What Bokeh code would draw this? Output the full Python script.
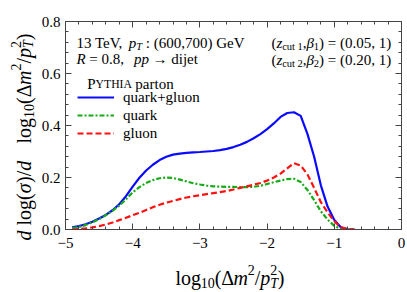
import math
from bokeh.plotting import figure
from bokeh.layouts import row, column
from bokeh.models import (Range1d, LinearAxis, SingleIntervalTicker, Label, Legend,
                          LegendItem, CustomJSTickFormatter, PrintfTickFormatter)
from bokeh.embed import file_html
from bokeh.resources import INLINE

# ---------------- data ----------------
log_dm2 = [-4.9, -4.8, -4.7, -4.6, -4.5, -4.4, -4.3, -4.2, -4.1, -4.0,
           -3.9, -3.8, -3.7, -3.6, -3.5, -3.4, -3.3, -3.2, -3.1, -3.0,
           -2.9, -2.8, -2.7, -2.6, -2.5, -2.4, -2.3, -2.2, -2.1, -2.0,
           -1.9, -1.8, -1.7, -1.6, -1.5, -1.4, -1.3, -1.2, -1.1, -1.0,
           -0.9, -0.8, -0.7]
quark_gluon = [0.008, 0.013, 0.020, 0.030, 0.042, 0.056, 0.074, 0.097, 0.128, 0.165,
               0.199, 0.227, 0.249, 0.267, 0.280, 0.288, 0.292, 0.295, 0.297, 0.298,
               0.300, 0.302, 0.305, 0.310, 0.317, 0.326, 0.337, 0.351, 0.367, 0.386,
               0.408, 0.433, 0.448, 0.451, 0.437, 0.368, 0.280, 0.170, 0.088, 0.037,
               0.008, 0.000, 0.000]
quark = [0.005, 0.010, 0.017, 0.027, 0.040, 0.055, 0.072, 0.092, 0.116, 0.143,
         0.163, 0.179, 0.190, 0.197, 0.200, 0.198, 0.192, 0.185, 0.178, 0.173,
         0.169, 0.166, 0.165, 0.164, 0.164, 0.163, 0.163, 0.164, 0.168, 0.175,
         0.182, 0.188, 0.194, 0.195, 0.183, 0.152, 0.113, 0.070, 0.038, 0.014,
         0.002, 0.000, 0.000]
gluon = [0.000, 0.002, 0.004, 0.008, 0.013, 0.019, 0.027, 0.036, 0.045, 0.055,
         0.064, 0.075, 0.086, 0.095, 0.103, 0.110, 0.117, 0.123, 0.128, 0.132,
         0.136, 0.140, 0.144, 0.148, 0.154, 0.160, 0.166, 0.172, 0.179, 0.188,
         0.200, 0.215, 0.235, 0.255, 0.246, 0.212, 0.160, 0.105, 0.066, 0.032,
         0.008, 0.002, 0.000]
series_labels = ["quark+gluon", "quark", "gluon"]

# ---------------- layout (page pixels) ----------------
SERIF = "Liberation Serif"
PW, PH = 407, 292
YL_W = 38                      # width of the y-title strip
MAIN_W, MAIN_H = PW - YL_W, 256
XL_H = PH - MAIN_H             # height of the x-title strip
FL, FR, FT, FB = 62, 401, 21, 229   # frame edges on the page
XMIN, XMAX, YMIN, YMAX = -5.0, 0.0, 0.0, 0.8

p = figure(width=MAIN_W, height=MAIN_H, output_backend="svg", toolbar_location=None,
           x_range=Range1d(XMIN, XMAX), y_range=Range1d(YMIN, YMAX),
           x_axis_type=None, y_axis_type=None,
           min_border_left=FL - YL_W, min_border_right=PW - FR,
           min_border_top=FT, min_border_bottom=MAIN_H - FB)
p.grid.visible = False
p.outline_line_color = None

AX = "#444444"

def style_axis(ax, labels):
    ax.axis_line_color = AX
    ax.major_tick_line_color = AX
    ax.minor_tick_line_color = AX
    ax.major_tick_in = 6
    ax.major_tick_out = 0
    ax.minor_tick_in = 3
    ax.minor_tick_out = 0
    ax.major_label_text_font = SERIF
    ax.major_label_text_color = "black"
    ax.major_label_text_font_size = "15px"
    if not labels:
        ax.formatter = CustomJSTickFormatter(code="return '';")
        ax.major_label_standoff = 0

minus_fmt = CustomJSTickFormatter(code="return (tick < 0 ? '\u2212' : '') + Math.abs(tick).toFixed(0);")
for side in ["below", "above"]:
    ax = LinearAxis(ticker=SingleIntervalTicker(interval=1, num_minor_ticks=5),
                    formatter=minus_fmt)
    style_axis(ax, side == "below")
    if side == "below":
        ax.major_label_standoff = 8
    p.add_layout(ax, side)
for side in ["left", "right"]:
    ax = LinearAxis(ticker=SingleIntervalTicker(interval=0.2, num_minor_ticks=5),
                    formatter=PrintfTickFormatter(format="%.1f"))
    style_axis(ax, side == "left")
    if side == "left":
        ax.major_label_standoff = 5
    p.add_layout(ax, side)

# ---------------- curves ----------------
r_qg = p.line(log_dm2, quark_gluon, line_color="#0a0aff", line_width=2.2)
r_q = p.line(log_dm2, quark, line_color="#16aa16", line_width=2.2, line_dash="5 2 2 2")
r_g = p.line(log_dm2, gluon, line_color="#ff1010", line_width=2.2, line_dash="6 3")

leg = Legend(items=[LegendItem(label=series_labels[0], renderers=[r_qg]),
                    LegendItem(label=series_labels[1], renderers=[r_q]),
                    LegendItem(label=series_labels[2], renderers=[r_g])],
             location=(12, 87), glyph_width=37, glyph_height=18, label_height=18,
             spacing=0, label_standoff=9, padding=0, margin=0,
             border_line_color=None, background_fill_alpha=0,
             label_text_font=SERIF, label_text_font_size="15px",
             label_text_color="black")
p.add_layout(leg)

# ---------------- title strips ----------------
def strip(w, h, xr):
    f = figure(width=w, height=h, output_backend="svg", toolbar_location=None,
               x_range=Range1d(*xr), y_range=Range1d(0, h),
               x_axis_type=None, y_axis_type=None,
               min_border_left=0, min_border_right=0, min_border_top=0, min_border_bottom=0)
    f.grid.visible = False
    f.outline_line_color = None
    return f

ylab = strip(YL_W, PH, (0, YL_W))
# the x-title strip sits in a column with the main plot, whose frame it shares
xlab = strip(MAIN_W, XL_H, (FL, FR))

# ---------------- rich text helper ----------------
REG = {' ': 250, '.': 250, ',': 250, ':': 278, '(': 333, ')': 333, '=': 564, '+': 564,
       '/': 278, 'T': 611, 'e': 444, 'V': 722, 'G': 722, 'a': 444, 'c': 444, 'd': 500,
       'g': 500, 'i': 278, 'j': 278, 'k': 500, 'l': 278, 'n': 500, 'o': 500, 'p': 500,
       'q': 500, 'r': 333, 't': 278, 'u': 500, 'P': 556, 'Y': 722, 'H': 722, 'I': 333,
       'A': 722, '\u0394': 612, '\u2192': 1000, 'm': 778}
ITA = {'p': 500, 'T': 556, 'R': 611, 'z': 389, 'm': 722, 'd': 500, '\u03b2': 500,
       '\u03c3': 520}

def tw(s, italic):
    tot = 0
    for c in s:
        if italic and c in ITA:
            tot += ITA[c]
        else:
            tot += REG.get(c, 500)
    return tot

def P(t, it=False, sc=1.0, dy=0.0, adv=True, at=None):
    return dict(t=t, it=it, sc=sc, dy=dy, adv=adv, at=at)

def main_xy(px, py):
    return (XMIN + (px - FL) / (FR - FL) * (XMAX - XMIN),
            YMIN + (FB - py) / (FB - FT) * (YMAX - YMIN))

def ylab_xy(px, py):
    return px, PH - py

def xlab_xy(px, py):
    return px, PH - py

def rich(fig, tf, pieces, x0, y0, size, vertical=False):
    pos = 0.0
    for pc in pieces:
        if pc["at"] is not None:
            pos = pc["at"]
        fs = size * pc["sc"]
        shift = pc["dy"] * size
        txt = pc["t"]
        lead = tw(txt[:len(txt) - len(txt.lstrip(' '))], pc["it"]) * fs / 1000.0
        shown = txt.strip(' ')
        a = pos + lead
        if vertical:
            px, py, ang = x0 - shift, y0 - a, math.pi / 2
        else:
            px, py, ang = x0 + a, y0 - shift, 0.0
        dx, dy = tf(px, py)
        fig.add_layout(Label(x=dx, y=dy, text=shown, angle=ang,
                             text_font=SERIF,
                             text_font_style="italic" if pc["it"] else "normal",
                             text_font_size=f"{fs:.1f}px", text_color="black",
                             text_baseline="alphabetic", text_align="left"))
        if pc["adv"]:
            pos += tw(txt, pc["it"]) * fs / 1000.0

SUB, SUP, S = -0.25, 0.38, 0.7

rich(p, main_xy, [P("13 TeV,"), P(" p", True), P("T", True, S, SUB), P(" : (600,700) GeV")],
     73, 42.5, 15)
rich(p, main_xy, [P("R", True), P(" = 0.8,"), P("pp", True, at=58), P(" \u2192 dijet")],
     73, 58.5, 15)
for k, (zc, zv) in enumerate([("1", "(0.05, 1)"), ("2", "(0.20, 1)")]):
    pcs = [P("("), P("z", True), P("cut " + zc, False, S, SUB), P(","), P("\u03b2", True),
           P(zc, False, S, SUB), P(") = " + zv)]
    width = sum(tw(q["t"], q["it"]) * 15 * q["sc"] / 1000.0 for q in pcs)
    rich(p, main_xy, pcs, 390 - width, 42.5 + 16.5 * k, 15)
rich(p, main_xy, [P("P"), P("YTHIA", False, 0.78), P(" parton")], 84, 83.5, 15)

rich(xlab, xlab_xy,
     [P("log"), P("10", False, S, SUB), P("("), P("\u0394"), P("m", True), P("2", False, S, SUP),
      P("/"), P("p", True), P("2", False, S, SUP, adv=False), P("T", True, S, SUB), P(")")],
     173, 277.5, 20)
rich(ylab, ylab_xy,
     [P("d", True), P(" log"), P("("), P("\u03c3", True), P(")"), P("/"), P("d", True),
      P("log", at=97), P("10", False, S, SUB), P("("), P("\u0394"), P("m", True),
      P("2", False, S, SUP), P("/"), P("p", True), P("2", False, S, SUP, adv=False),
      P("T", True, S, SUB), P(")")],
     23, 240, 20, vertical=True)

layout = row(ylab, column(p, xlab, spacing=0), spacing=0)
open("out.html", "w").write(file_html(layout, INLINE))
